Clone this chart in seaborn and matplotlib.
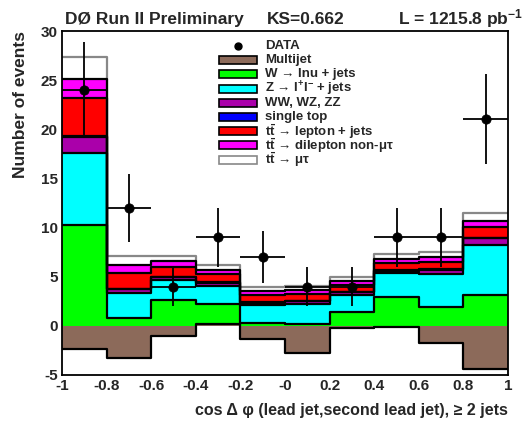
import numpy as np
import pandas as pd
import matplotlib
matplotlib.use("Agg")
import matplotlib.pyplot as plt
import seaborn as sns
from matplotlib.patches import Rectangle

# ── Data ─────────────────────────────────────────────────────────────────────
bin_edges = [-1.0, -0.8, -0.6, -0.4, -0.2, 0.0, 0.2, 0.4, 0.6, 0.8, 1.0]
data_counts = [24, 12, 4, 9, 7, 4, 4, 9, 9, 21]

# per-process contributions, bottom -> top of the stack
multijet   = [-2.36, -3.3, -1.05, 0.2, -1.33, -2.77, -0.2, -0.1, -1.72, -4.4]
w_jets     = [12.66, 4.1, 3.73, 2.07, 1.6, 2.92, 1.56, 3.04, 3.59, 7.58]
z_jets     = [7.25, 2.5, 1.96, 1.79, 1.86, 2.05, 1.82, 2.47, 3.38, 5.08]
diboson    = [1.65, 0.45, 0.33, 0.34, 0.24, 0.3, 0.24, 0.21, 0.45, 0.66]
single_top = [0.1, 0.05, 0.05, 0.05, 0.03, 0.04, 0.03, 0.03, 0.05, 0.05]
tt_ljets   = [3.9, 1.6, 0.98, 0.85, 0.7, 0.71, 0.75, 0.78, 0.75, 1.07]
tt_dilep   = [1.9, 0.8, 0.55, 0.42, 0.4, 0.41, 0.37, 0.4, 0.5, 0.61]
tt_mutau   = [2.3, 0.9, 0.6, 0.51, 0.5, 0.41, 0.4, 0.44, 0.5, 0.85]

labels = ["Multijet", "W \u2192 lnu + jets", "Z \u2192 l$^{+}$l$^{-}$ + jets",
          "WW, WZ, ZZ", "single top", "$\\mathbf{t\\bar{t}}$ \u2192 lepton + jets",
          "$\\mathbf{t\\bar{t}}$ \u2192 dilepton non-\u03bc\u03c4", "$\\mathbf{t\\bar{t}}$ \u2192 \u03bc\u03c4"]
colors = ["#8c6a5a", "#00ff00", "#00ffff", "#aa00aa", "#0000ff", "#ff0000", "#ff00ff", "#ffffff"]
x_ticklabels = ["-1", "-0.8", "-0.6", "-0.4", "-0.2", "-0", "0.2", "0.4", "0.6", "0.8", "1"]
y_ticks = [-5, 0, 5, 10, 15, 20, 25, 30]

# ── Plot ─────────────────────────────────────────────────────────────────────
sns.set_theme(style="white")
plt.rcParams["font.family"] = ["Liberation Sans", "DejaVu Sans"]
plt.rcParams["font.weight"] = "bold"
plt.rcParams["mathtext.fontset"] = "custom"
plt.rcParams["mathtext.rm"] = "Liberation Sans:bold"
plt.rcParams["mathtext.bf"] = "Liberation Sans:bold"
plt.rcParams["mathtext.it"] = "Liberation Sans:bold:italic"

edges = np.array(bin_edges)
centers = 0.5 * (edges[:-1] + edges[1:])
comps = np.array([multijet, w_jets, z_jets, diboson, single_top, tt_ljets, tt_dilep, tt_mutau])
cumul = np.cumsum(comps, axis=0)
n = len(labels)

fig = plt.figure(figsize=(5.27, 4.23), dpi=100)
ax = fig.add_axes([0.1176, 0.1135, 0.8464, 0.8132])

# ROOT-style stack: each cumulative histogram filled from 0, largest first
for i in range(n - 1, -1, -1):
    df = pd.DataFrame({"x": centers, "w": cumul[i]})
    edge = "#888888" if i == n - 1 else "black"
    sns.histplot(data=df, x="x", weights="w", bins=list(bin_edges), element="step",
                 fill=True, color=colors[i], alpha=1, linewidth=0, ax=ax)
    sns.histplot(data=df, x="x", weights="w", bins=list(bin_edges), element="step",
                 fill=False, color=edge, linewidth=1.6, ax=ax)

counts = np.array(data_counts, dtype=float)
ax.errorbar(centers, counts, yerr=np.sqrt(counts), xerr=0.1, fmt="none",
            ecolor="black", elinewidth=1.3, capsize=0, zorder=5)
sns.scatterplot(x=centers, y=counts, color="black", s=45, edgecolor="black",
                zorder=6, ax=ax)

ax.set_xlim(-1, 1)
ax.set_ylim(-5, 30)
ax.set_xticks(edges, labels=x_ticklabels, fontweight="bold", fontsize=11)
ax.set_xticks(np.arange(-1, 1.001, 0.05), minor=True)
ax.set_yticks(y_ticks, labels=[str(v) for v in y_ticks], fontweight="bold", fontsize=11)
ax.set_yticks(np.arange(-5, 31, 1), minor=True)
ax.tick_params(axis="both", which="both", direction="in",
               top=False, right=False, width=1.2, pad=3)
ax.tick_params(axis="y", which="major", length=12)
ax.tick_params(axis="y", which="minor", length=6)
ax.tick_params(axis="x", which="major", length=10)
ax.tick_params(axis="x", which="minor", length=5)
for sp in ax.spines.values():
    sp.set_linewidth(1.3)
    sp.set_color("black")

ax.set_xlabel("cos \u0394 \u03c6 (lead jet,second lead jet), \u2265 2 jets",
              fontsize=11.5, fontweight="bold", loc="right", labelpad=7)
ax.set_ylabel("Number of events", fontsize=12.5, fontweight="bold", loc="top", labelpad=9)

fig.text(0.123, 0.943, "D\u00d8 Run II Preliminary", fontsize=12.5,
         fontweight="bold", va="baseline", ha="left")
fig.text(0.507, 0.943, "KS=0.662", fontsize=12.5,
         fontweight="bold", va="baseline", ha="left")
fig.text(0.993, 0.943, "L = 1215.8 pb$^{-1}$", fontsize=12.5,
         fontweight="bold", va="baseline", ha="right")

# legend, drawn by hand so the rows sit evenly like the ROOT TLegend
W, H = 527.0, 423.0
row_y = 46.0
row_step = 14.2
fig.add_artist(plt.Line2D([238 / W], [1 - row_y / H], marker="o", color="black",
                          markersize=5, linestyle="none"))
fig.text(265 / W, 1 - row_y / H, "DATA", fontsize=9.5, fontweight="bold", va="center")
for i in range(n):
    yc = row_y + row_step * (i + 1)
    ec = "#888888" if i == n - 1 else "black"
    fig.add_artist(Rectangle((219 / W, 1 - (yc + 4) / H), 38 / W, 8 / H,
                             facecolor=colors[i], edgecolor=ec, linewidth=1.2,
                             transform=fig.transFigure))
    fig.text(265 / W, 1 - yc / H, labels[i], fontsize=9.5, fontweight="bold", va="center")

fig.savefig("out.png", dpi=100, facecolor="white")
